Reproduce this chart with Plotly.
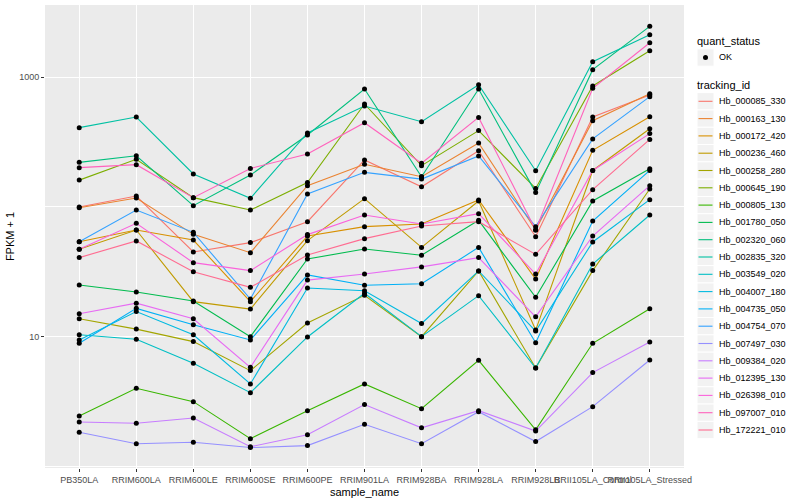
import plotly.graph_objects as go

samples = ["PB350LA", "RRIM600LA", "RRIM600LE", "RRIM600SE", "RRIM600PE", "RRIM901LA",
           "RRIM928BA", "RRIM928LA", "RRIM928LB", "RRII105LA_Control", "RRII105LA_Stressed"]

tracking_ids = ["Hb_000085_330", "Hb_000163_130", "Hb_000172_420", "Hb_000236_460", "Hb_000258_280",
                "Hb_000645_190", "Hb_000805_130", "Hb_001780_050", "Hb_002320_060", "Hb_002835_320",
                "Hb_003549_020", "Hb_004007_180", "Hb_004735_050", "Hb_004754_070", "Hb_007497_030",
                "Hb_009384_020", "Hb_012395_130", "Hb_026398_010", "Hb_097007_010", "Hb_172221_010"]

colors = ["#F8766D", "#EA8331", "#D89000", "#C09B00", "#A3A500", "#7CAE00", "#39B600", "#00BB4E",
          "#00BF7D", "#00C1A3", "#00BFC4", "#00BAE0", "#00B0F6", "#35A2FF", "#9590FF", "#C77CFF",
          "#E76BF3", "#FA62DB", "#FF62BC", "#FF6C91"]

quant_status = ["OK"]

# FPKM + 1 per sample (order of `samples`)
hb_000085_330 = [100, 121.5, 45.1, 53.2, 77.1, 230, 143, 271, 59.1, 492, 727]
hb_000163_130 = [98.8, 117.3, 61.6, 44.5, 146, 213, 171, 311, 66.5, 461, 744]
hb_000172_420 = [54.1, 66.5, 55.7, 18.7, 59.8, 70.6, 74.0, 113.2, 27.9, 273, 495]
hb_000236_460 = [47.3, 66.5, 18.7, 16.4, 55.1, 115.9, 48.9, 111.2, 11.3, 191, 400]
hb_000258_280 = [13.8, 11.5, 9.21, 5.51, 12.8, 20.9, 10.06, 32.2, 5.77, 32.4, 137.5]
hb_000645_190 = [161, 233, 118, 94.8, 154, 620, 208, 387, 139, 853, 1594]
hb_000805_130 = [2.47, 4.03, 3.18, 1.65, 2.71, 4.35, 2.81, 6.61, 1.93, 8.94, 16.5]
hb_001780_050 = [25.1, 22.2, 18.9, 10.06, 39.8, 47.5, 42.5, 79.0, 20.2, 111.2, 197]
hb_002320_060 = [220.6, 248, 102.4, 176, 358, 808, 171, 808, 129, 1139, 2453]
hb_002835_320 = [407.7, 492, 179.4, 116.6, 371, 598, 453, 873, 190, 1312, 2117]
hb_003549_020 = [10.4, 9.60, 6.27, 3.73, 10.0, 21.7, 10.06, 20.8, 5.77, 36.4, 86.8]
hb_004007_180 = [9.48, 15.7, 10.4, 4.35, 23.8, 22.7, 12.7, 32.2, 11.1, 53.8, 113.9]
hb_004735_050 = [8.94, 16.6, 12.4, 9.48, 30.0, 25.0, 25.7, 48.9, 9.04, 78.0, 191]
hb_004754_070 = [54.1, 94.8, 63.8, 19.6, 125.9, 184.8, 164, 247, 70.6, 334, 706]
hb_007497_030 = [1.85, 1.51, 1.55, 1.41, 1.46, 2.13, 1.51, 2.66, 1.57, 2.91, 6.65]
hb_009384_020 = [2.22, 2.17, 2.38, 1.43, 1.77, 3.02, 2.0, 2.71, 1.89, 5.32, 9.15]
hb_012395_130 = [15.1, 18.2, 13.8, 5.84, 27.4, 30.5, 34.6, 40.8, 14.3, 59.8, 146]
hb_026398_010 = [47.3, 74.9, 37.3, 32.4, 61.3, 86.8, 74.0, 88.9, 30.5, 191, 367]
hb_097007_010 = [200.7, 211.7, 118, 198, 256, 445, 217, 489, 66.5, 818, 1836]
hb_172221_010 = [40.8, 54.8, 31.8, 24.1, 42.7, 57.1, 71.4, 77.1, 43.2, 136, 331]

series = [hb_000085_330, hb_000163_130, hb_000172_420, hb_000236_460, hb_000258_280,
          hb_000645_190, hb_000805_130, hb_001780_050, hb_002320_060, hb_002835_320,
          hb_003549_020, hb_004007_180, hb_004735_050, hb_004754_070, hb_007497_030,
          hb_009384_020, hb_012395_130, hb_026398_010, hb_097007_010, hb_172221_010]

y_ticks = [10, 1000]
y_minor = [1, 100]

FONT = "Liberation Sans, Arial, sans-serif"
W, H = 800, 500
ML, MR, MT, MB = 45, 116, 5, 32
PW, PH = W - ML - MR, H - MT - MB


def px(xp):
    return (xp - ML) / PW


def py(yp):
    return (H - MB - yp) / PH


fig = go.Figure()

for name, col, vals in zip(tracking_ids, colors, series):
    fig.add_trace(go.Scatter(
        x=samples, y=vals, mode="lines", name=name,
        line=dict(color=col, width=1.1), showlegend=False,
    ))

all_x = [s for _ in series for s in samples]
all_y = [v for vals in series for v in vals]
fig.add_trace(go.Scatter(
    x=all_x, y=all_y, mode="markers", name=quant_status[0],
    marker=dict(color="black", size=5), showlegend=False,
))

# ---- ggplot-style legends (keys drawn in paper space) ----
shapes = []
annotations = []
KX0, KX1 = 697, 714
KEY = 17.3
TX = 717

annotations.append(dict(text="quant_status", x=px(695), y=py(41), xref="paper", yref="paper",
                        xanchor="left", yanchor="middle", showarrow=False,
                        font=dict(size=11, color="black", family=FONT)))
okc = 57.5
shapes.append(dict(type="rect", xref="paper", yref="paper", x0=px(KX0), x1=px(KX1),
                   y0=py(okc - KEY / 2), y1=py(okc + KEY / 2), fillcolor="#F2F2F2",
                   line=dict(color="white", width=1), layer="above"))
shapes.append(dict(type="circle", xref="paper", yref="paper", x0=px(703), x1=px(708),
                   y0=py(okc - 2.5), y1=py(okc + 2.5), fillcolor="black",
                   line=dict(color="black", width=0), layer="above"))
annotations.append(dict(text=quant_status[0], x=px(TX), y=py(okc), xref="paper", yref="paper",
                        xanchor="left", yanchor="middle", showarrow=False,
                        font=dict(size=9, color="black", family=FONT)))

annotations.append(dict(text="tracking_id", x=px(695), y=py(85), xref="paper", yref="paper",
                        xanchor="left", yanchor="middle", showarrow=False,
                        font=dict(size=11, color="black", family=FONT)))
first = 101.3
for i, (name, col) in enumerate(zip(tracking_ids, colors)):
    c = first + i * KEY
    shapes.append(dict(type="rect", xref="paper", yref="paper", x0=px(KX0), x1=px(KX1),
                       y0=py(c - KEY / 2), y1=py(c + KEY / 2), fillcolor="#F2F2F2",
                       line=dict(color="white", width=1), layer="above"))
    shapes.append(dict(type="line", xref="paper", yref="paper", x0=px(KX0 + 1.5), x1=px(KX1 - 1.5),
                       y0=py(c), y1=py(c), line=dict(color=col, width=1.1), layer="above"))
    annotations.append(dict(text=name, x=px(TX), y=py(c), xref="paper", yref="paper",
                            xanchor="left", yanchor="middle", showarrow=False,
                            font=dict(size=9, color="black", family=FONT)))

fig.update_layout(
    width=W, height=H,
    margin=dict(l=ML, r=MR, t=MT, b=MB, autoexpand=False),
    paper_bgcolor="white",
    plot_bgcolor="#EBEBEB",
    font=dict(family=FONT, size=9, color="#4D4D4D"),
    showlegend=False,
    shapes=shapes,
    annotations=annotations,
)

fig.update_xaxes(
    type="category", categoryorder="array", categoryarray=samples,
    range=[-0.6, len(samples) - 0.4],
    showgrid=True, gridcolor="white", gridwidth=1.1,
    zeroline=False, showline=False,
    ticks="outside", ticklen=3, tickcolor="#333333", tickwidth=1,
    tickangle=0, tickfont=dict(size=9, color="#4D4D4D"),
    title=dict(text="sample_name", font=dict(size=11, color="black"), standoff=4),
)

fig.update_yaxes(
    type="log", range=[-0.008, 3.554],
    tickvals=y_ticks, ticktext=[str(v) for v in y_ticks],
    showgrid=True, gridcolor="white", gridwidth=1.1,
    minor=dict(tickvals=y_minor, showgrid=True, gridcolor="white", gridwidth=0.5, ticks=""),
    zeroline=False, showline=False,
    ticks="outside", ticklen=3, tickcolor="#333333", tickwidth=1,
    tickfont=dict(size=9, color="#4D4D4D"),
    title=dict(text="FPKM + 1", font=dict(size=11, color="black"), standoff=2),
)

fig.write_html("out.html", config={"displayModeBar": False},
               post_script="document.body.style.margin='0px';")
